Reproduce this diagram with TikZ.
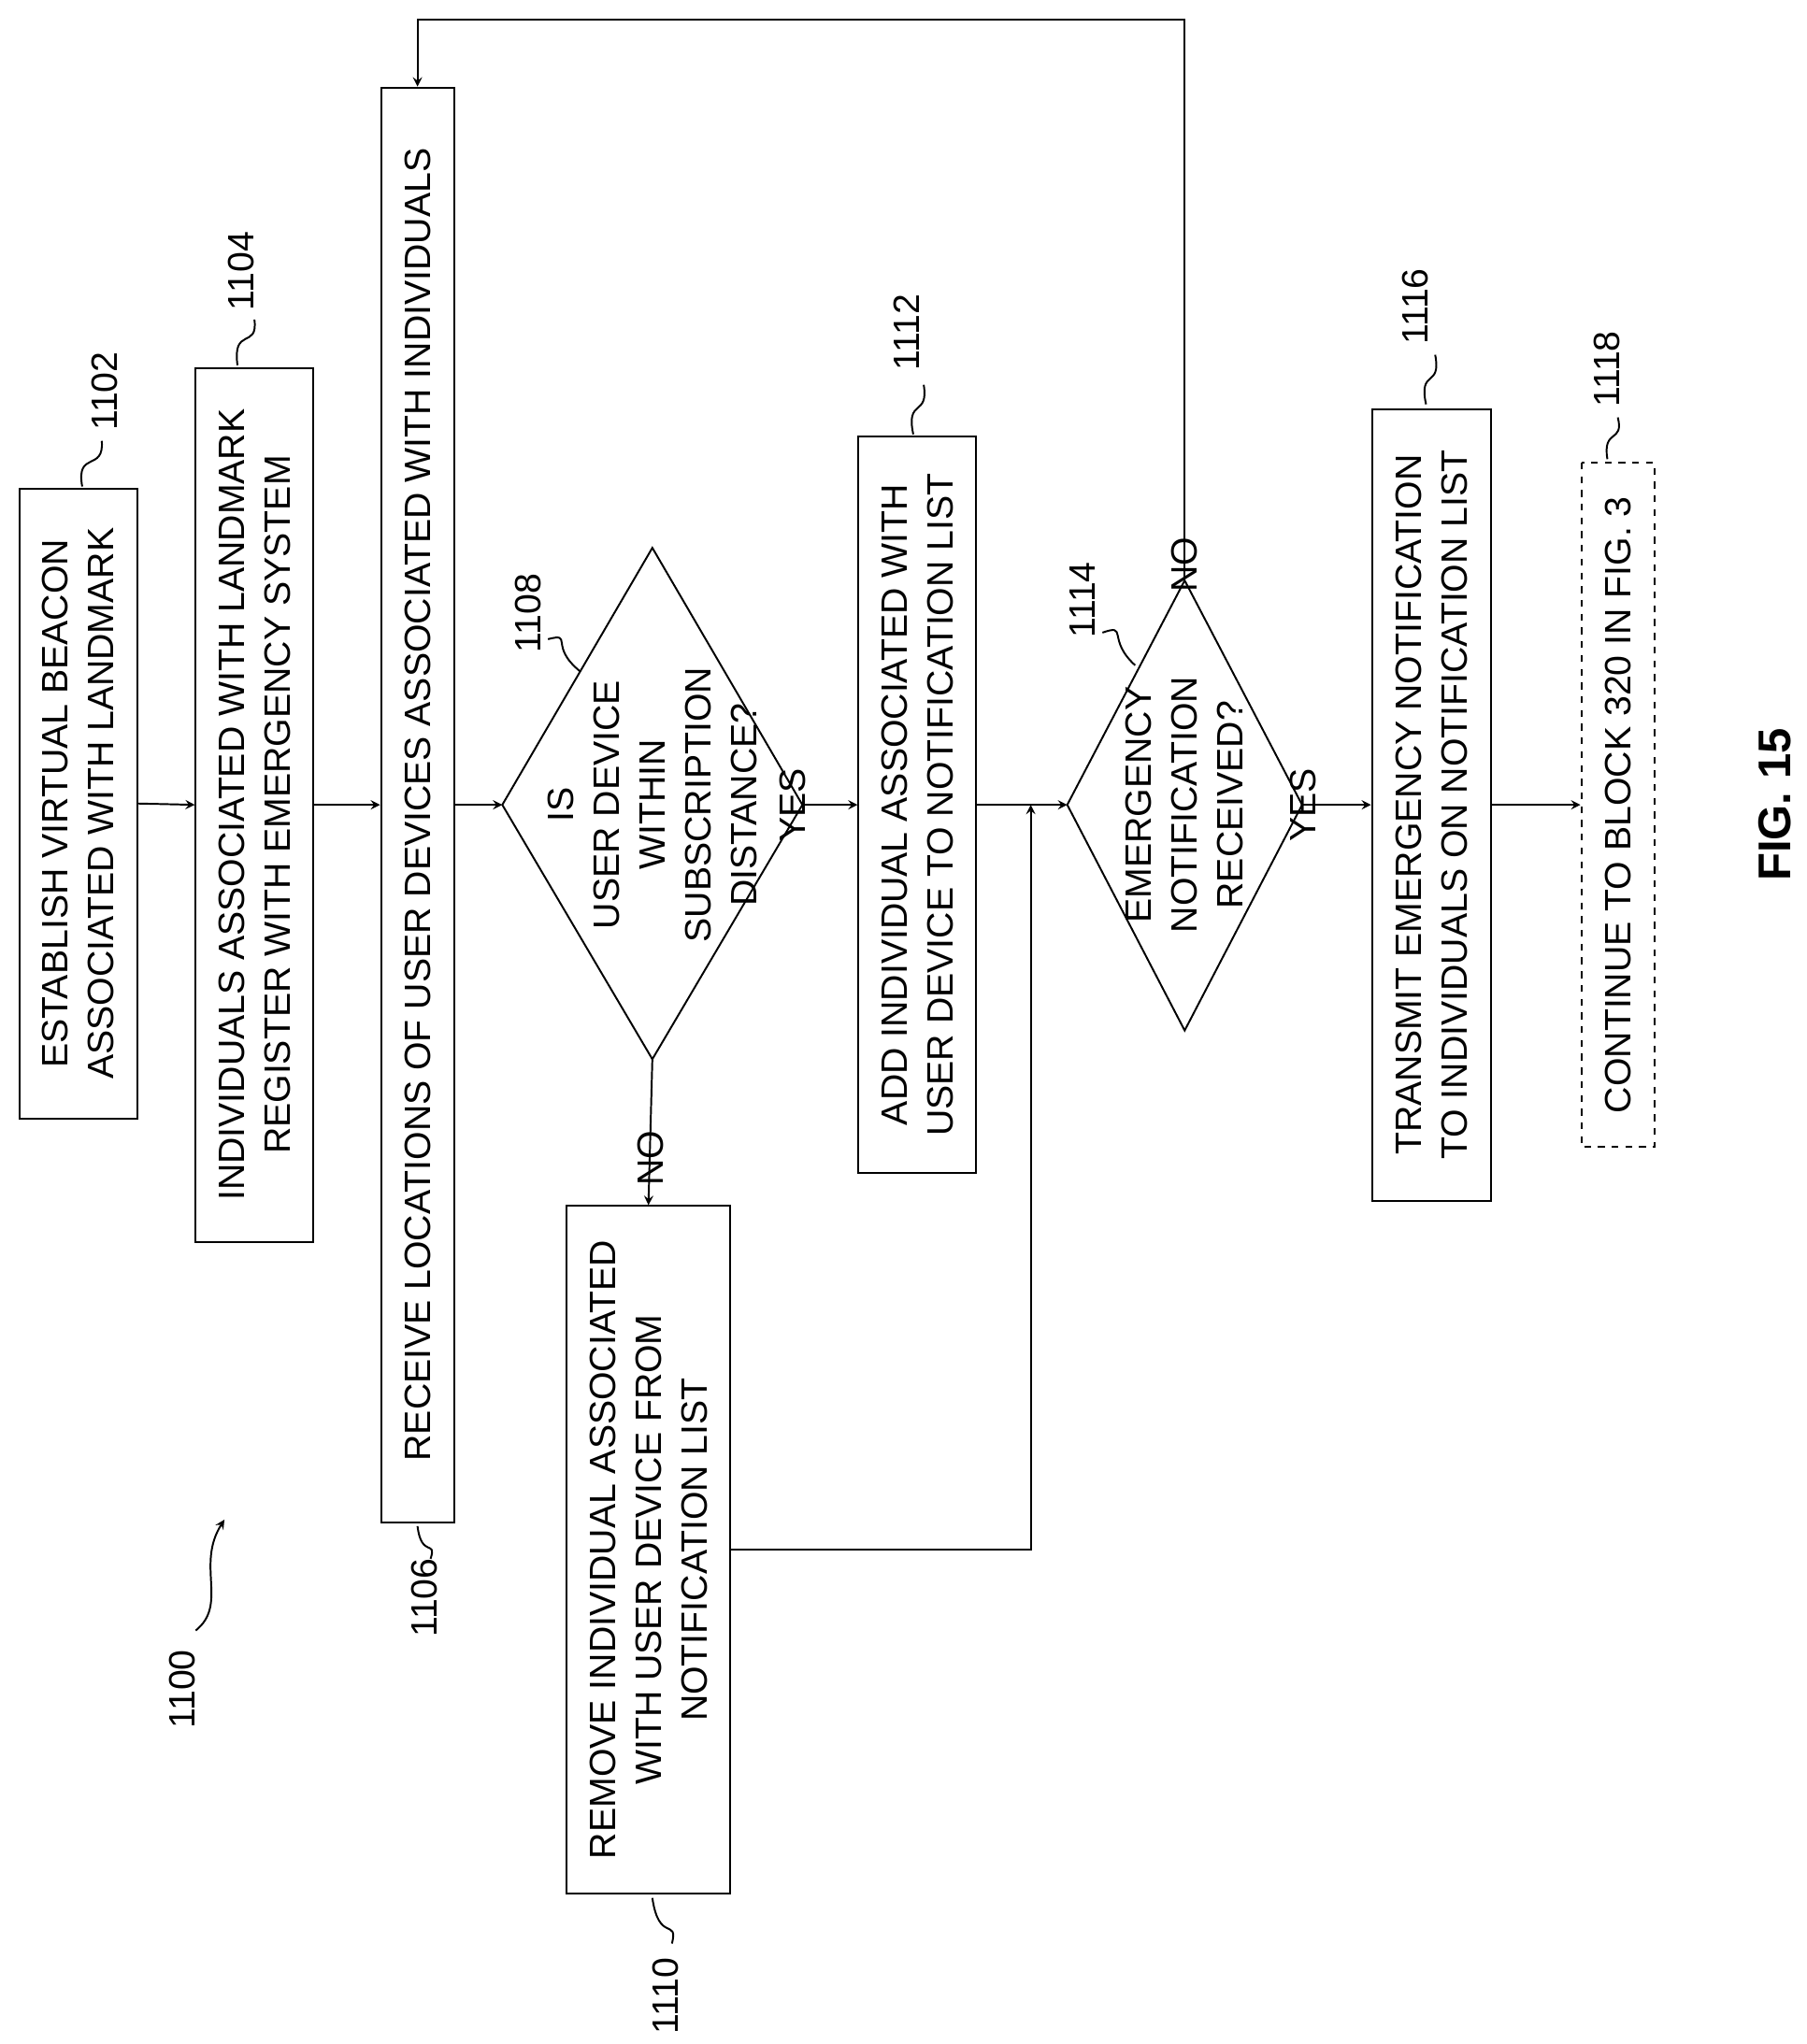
\documentclass[tikz,border=0pt]{standalone}
\usepackage{fontspec}
\setmainfont{Liberation Sans}
\usetikzlibrary{arrows}

\begin{document}
\begin{tikzpicture}[x=0.02cm,y=-0.02cm,
    every node/.style={font=\fontsize{16}{20}\selectfont},
    box/.style={draw, thick, rotate=90, align=center, inner sep=2pt},
    lbl/.style={rotate=90},
    arr/.style={thick, ->, >=stealth}]
  \useasboundingbox (0,0) rectangle (1385,1567);

  % process blocks
  \node[box, minimum width=9.66cm, minimum height=1.8cm] (b1102) at (60,616) {ESTABLISH VIRTUAL BEACON\\ASSOCIATED WITH LANDMARK};
  \node[box, minimum width=13.4cm, minimum height=1.8cm] (b1104) at (195,617) {INDIVIDUALS ASSOCIATED WITH LANDMARK\\REGISTER WITH EMERGENCY SYSTEM};
  \node[box, minimum width=22cm, minimum height=1.12cm] (b1106) at (320,617) {RECEIVE LOCATIONS OF USER DEVICES ASSOCIATED WITH INDIVIDUALS};
  \node[box, minimum width=10.54cm, minimum height=2.5cm] (b1110) at (497,1188) {REMOVE INDIVIDUAL ASSOCIATED\\WITH USER DEVICE FROM\\NOTIFICATION LIST};
  \node[box, minimum width=11.3cm, minimum height=1.8cm] (b1112) at (703,617) {ADD INDIVIDUAL ASSOCIATED WITH\\USER DEVICE TO NOTIFICATION LIST};
  \node[box, minimum width=12.14cm, minimum height=1.82cm] (b1116) at (1097,617) {TRANSMIT EMERGENCY NOTIFICATION\\TO INDIVIDUALS ON NOTIFICATION LIST};
  \node[box, dashed, minimum width=10.5cm, minimum height=1.12cm] (b1118) at (1240,617) {CONTINUE TO BLOCK 320 IN FIG. 3};

  % decisions
  \coordinate (d1108l) at (385,617);
  \coordinate (d1108t) at (500,420);
  \coordinate (d1108r) at (615,617);
  \coordinate (d1108b) at (500,812);
  \draw[thick] (d1108l) -- (d1108t) -- (d1108r) -- (d1108b) -- cycle;
  \node[lbl, align=center] (t1108) at (500,617) {IS\\USER DEVICE\\WITHIN\\SUBSCRIPTION\\DISTANCE?};
  \coordinate (d1114l) at (818,617);
  \coordinate (d1114t) at (908,445);
  \coordinate (d1114r) at (998,617);
  \coordinate (d1114b) at (908,790);
  \draw[thick] (d1114l) -- (d1114t) -- (d1114r) -- (d1114b) -- cycle;
  \node[lbl, align=center] (t1114) at (908,617) {EMERGENCY\\NOTIFICATION\\RECEIVED?};

  % connectors
  \draw[arr] (b1102.south) -- (b1104.north);
  \draw[arr] (b1104.south) -- (b1106.north);
  \draw[arr] (b1106.south) -- (d1108l);
  \draw[arr] (d1108r) -- node[lbl, above=2pt, pos=0.3] {YES} (b1112.north);
  \draw[arr] (d1108b) -- node[lbl, left=2pt, pos=0.4] {NO} (b1110.east);
  \draw[arr] (b1112.south) -- (d1114l);
  \coordinate (merge) at (790,617);
  \draw[arr] (b1110.south) -| (merge);
  \draw[arr] (d1114r) -- node[lbl, above=2pt, pos=0.4] {YES} (b1116.north);
  \draw[arr] (b1116.south) -- (b1118.north);
  \coordinate (loop) at (908,15);
  \draw[arr] (d1114t) -- node[lbl, pos=0.1, left=2pt] {NO} (loop) -| (b1106.east);

  % reference numerals
  \node[lbl] (n1102) at (80,300) {1102};
  \draw[thick] (63,373) .. controls (58,345) and (80,362) .. (78,338);
  \node[lbl] (n1104) at (185,208) {1104};
  \draw[thick] (182,280) .. controls (178,250) and (198,268) .. (195,245);
  \node[lbl] (n1106) at (325,1225) {1106};
  \draw[thick] (320,1170) .. controls (323,1195) and (335,1180) .. (330,1195);
  \node[lbl] (n1108) at (405,470) {1108};
  \draw[thick] (445,515) .. controls (420,495) and (440,485) .. (420,490);
  \node[lbl] (n1110) at (510,1530) {1110};
  \draw[thick] (500,1455) .. controls (505,1490) and (520,1470) .. (515,1490);
  \node[lbl] (n1112) at (695,255) {1112};
  \draw[thick] (700,333) .. controls (694,305) and (712,320) .. (708,295);
  \node[lbl] (n1114) at (830,460) {1114};
  \draw[thick] (870,510) .. controls (848,490) and (865,478) .. (845,485);
  \node[lbl] (n1116) at (1085,235) {1116};
  \draw[thick] (1093,310) .. controls (1087,282) and (1105,298) .. (1100,272);
  \node[lbl] (n1118) at (1232,283) {1118};
  \draw[thick] (1232,352) .. controls (1228,328) and (1245,340) .. (1240,320);
  \node[lbl] (n1100) at (140,1295) {1100};
  \draw[arr] (150,1250) .. controls (175,1230) and (150,1200) .. (172,1165);

  \node[lbl, font=\fontsize{20}{24}\selectfont\bfseries] (fig) at (1360,617) {FIG. 15};
\end{tikzpicture}
\end{document}
